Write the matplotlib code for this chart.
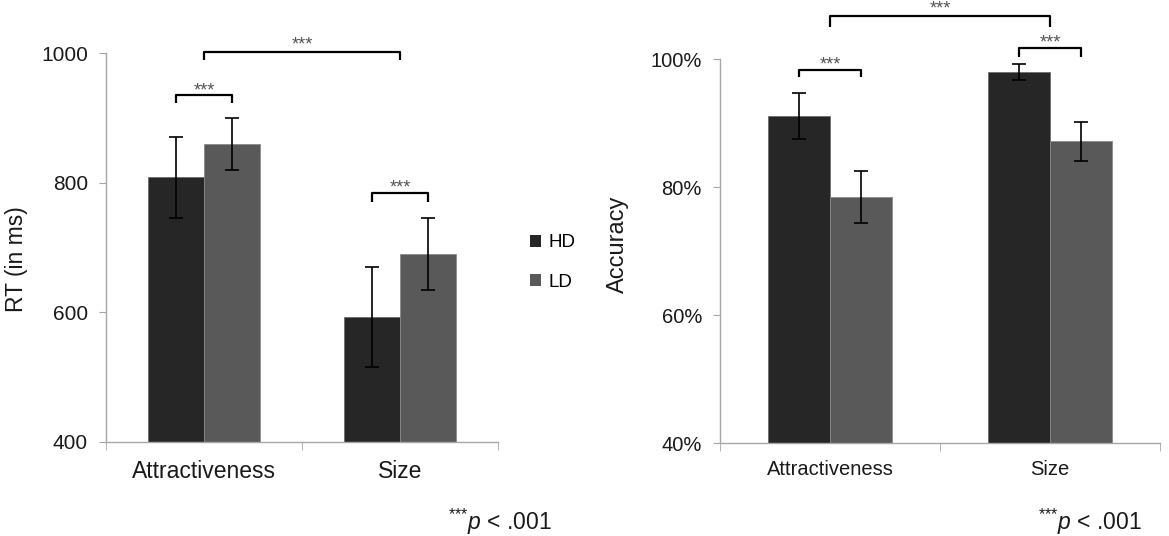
import numpy as np
import matplotlib
matplotlib.use('Agg')
import matplotlib.pyplot as plt
from matplotlib.patches import Patch

plt.rcParams['font.family'] = ['Liberation Sans', 'DejaVu Sans']
plt.rcParams['mathtext.fontset'] = 'custom'
plt.rcParams['mathtext.rm'] = 'Liberation Sans'
plt.rcParams['mathtext.it'] = 'Liberation Sans:italic'

categories = ['Attractiveness', 'Size']
groups = ['HD', 'LD']

rt_hd = [808, 592]
rt_hd_err = [63, 77]
rt_ld = [860, 690]
rt_ld_err = [40, 56]

acc_hd = [91.2, 98.0]
acc_hd_err = [3.6, 1.25]
acc_ld = [78.5, 87.2]
acc_ld_err = [4.1, 3.05]

c_hd = '#262626'
c_ld = '#595959'
spine_c = '#a6a6a6'
txt_c = '#1a1a1a'
W = 0.284

fig = plt.figure(figsize=(11.69, 5.36), dpi=100)
ax1 = fig.add_axes([0.0907, 0.1759, 0.3353, 0.7252])
ax2 = fig.add_axes([0.6159, 0.1726, 0.3764, 0.7168])


def draw_bars(ax, hd, hd_err, ld, ld_err):
    x = np.arange(len(categories))
    ekw = dict(ecolor='black', elinewidth=1.2, capsize=5, capthick=1.2)
    ax.bar(x - W / 2, hd, W, color=c_hd, edgecolor='#6e6e6e', linewidth=0.6,
           yerr=hd_err, error_kw=ekw, zorder=2)
    ax.bar(x + W / 2, ld, W, color=c_ld, edgecolor='#8a8a8a', linewidth=0.6,
           yerr=ld_err, error_kw=ekw, zorder=2)
    ax.set_xlim(-0.5, len(categories) - 0.5)
    for s in ['top', 'right']:
        ax.spines[s].set_visible(False)
    for s in ['left', 'bottom']:
        ax.spines[s].set_color(spine_c)
        ax.spines[s].set_linewidth(1.0)
    ax.set_xticks(x)
    ax.set_xticks(np.arange(len(categories) + 1) - 0.5, minor=True)
    ax.tick_params(axis='x', which='major', length=0)
    ax.tick_params(axis='x', which='minor', length=6, color=spine_c, direction='out')
    ax.tick_params(axis='y', length=5, color=spine_c, direction='out', pad=8,
                   labelcolor=txt_c)


def bracket(ax, x1, x2, y, leg, star_y, fs=13):
    ax.plot([x1, x1, x2, x2], [y - leg, y, y, y - leg], color='black', lw=1.6,
            clip_on=False, solid_joinstyle='round', solid_capstyle='butt', zorder=3)
    ax.annotate('***', xy=((x1 + x2) / 2, star_y), xytext=(0, -6),
                textcoords='offset points', ha='center', va='baseline',
                fontsize=fs, color='#555555', annotation_clip=False)


# left panel: RT
draw_bars(ax1, rt_hd, rt_hd_err, rt_ld, rt_ld_err)
ax1.set_ylim(400, 1000)
ax1.set_yticks([400, 600, 800, 1000])
ax1.tick_params(axis='y', labelsize=15)
ax1.set_xticklabels(categories)
ax1.tick_params(axis='x', which='major', labelsize=16.5, pad=13, labelcolor=txt_c)
bracket(ax1, -W / 2, W / 2, 935, 12, 948)
bracket(ax1, 0, 1, 1001.5, 13, 1018)
bracket(ax1, 1 - W / 2, 1 + W / 2, 783.5, 13, 797.5)

# right panel: accuracy
draw_bars(ax2, acc_hd, acc_hd_err, acc_ld, acc_ld_err)
ax2.set_ylim(40, 100)
ax2.set_yticks([40, 60, 80, 100])
ax2.set_yticklabels(['%d%%' % v for v in [40, 60, 80, 100]])
ax2.tick_params(axis='y', labelsize=14.5)
ax2.set_xticklabels(categories)
ax2.tick_params(axis='x', which='major', labelsize=14.5, pad=12, labelcolor=txt_c)
bracket(ax2, -W / 2, W / 2, 98.4, 1.2, 99.7)
bracket(ax2, 0, 1, 106.7, 1.7, 108.5)
bracket(ax2, 1 - W / 2, 1 + W / 2, 101.7, 1.3, 103.1)

fig.text(0.0145, 0.517, 'RT (in ms)', rotation=90, ha='center', va='center',
         fontsize=16.5, color=txt_c)
fig.text(0.5287, 0.545, 'Accuracy', rotation=90, ha='center', va='center',
         fontsize=17, color=txt_c)

handles = [Patch(facecolor=c_hd, edgecolor='none'), Patch(facecolor=c_ld, edgecolor='none')]
fig.legend(handles, groups, loc='center left', bbox_to_anchor=(0.453, 0.51),
           frameon=False, fontsize=13.5, handlelength=0.62, handleheight=0.62,
           handletextpad=0.4, labelspacing=1.2, borderpad=0, borderaxespad=0)

note = r'$^{{*}{*}{*}}\mathit{p}$ < .001'
fig.text(448 / 1169, 1 - 530 / 536, note, ha='left', va='baseline',
         fontsize=16.5, color=txt_c)
fig.text(1038 / 1169, 1 - 530 / 536, note, ha='left', va='baseline',
         fontsize=16.5, color=txt_c)

fig.savefig('out.png', dpi=100)
